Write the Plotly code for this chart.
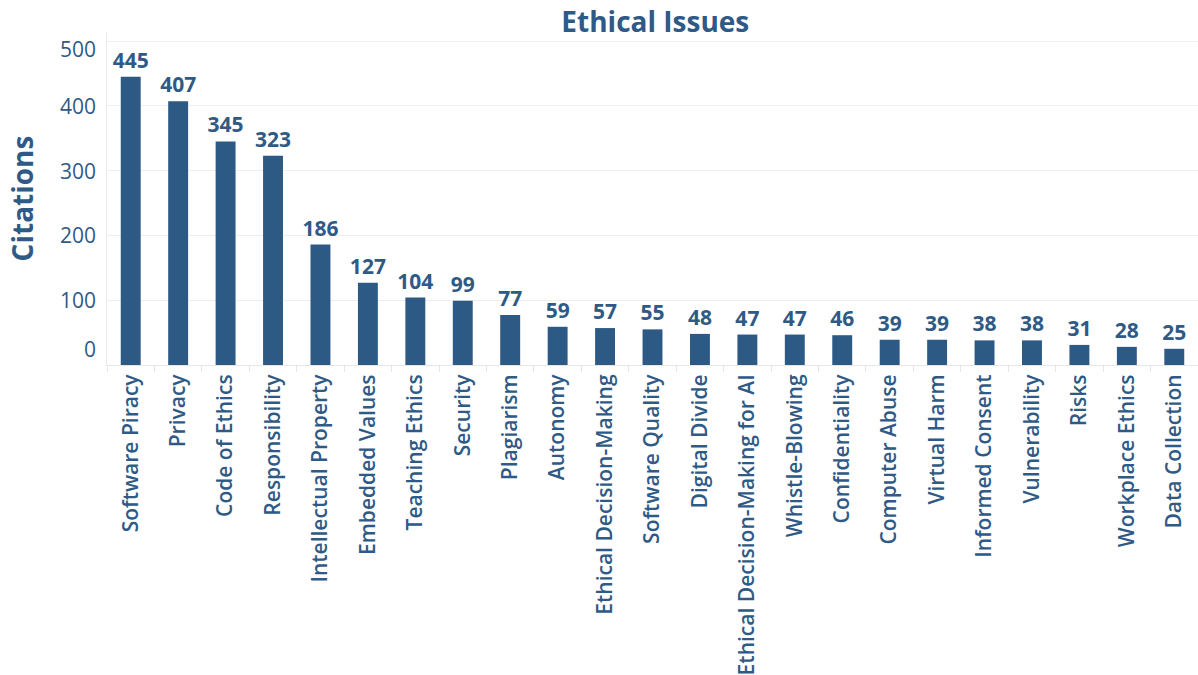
import plotly.graph_objects as go

issues = [
    "Software Piracy", "Privacy", "Code of Ethics", "Responsibility",
    "Intellectual Property", "Embedded Values", "Teaching Ethics", "Security",
    "Plagiarism", "Autonomy", "Ethical Decision-Making", "Software Quality",
    "Digital Divide", "Ethical Decision-Making for AI", "Whistle-Blowing",
    "Confidentiality", "Computer Abuse", "Virtual Harm", "Informed Consent",
    "Vulnerability", "Risks", "Workplace Ethics", "Data Collection",
]
citations = [445, 407, 345, 323, 186, 127, 104, 99, 77, 59, 57, 55, 48, 47,
             47, 46, 39, 39, 38, 38, 31, 28, 25]
y_ticks = [0, 100, 200, 300, 400, 500]

BLUE = "#2d5985"
TEXT = "#2f5a86"
GRID = "#eeeeee"
FONT = "Open Sans"
Y_MAX = 514

fig = go.Figure(
    go.Bar(
        x=issues,
        y=citations,
        marker=dict(color=BLUE, line=dict(width=0)),
        text=citations,
        texttemplate="%{text}",
        textposition="outside",
        constraintext="none",
        textfont=dict(family=FONT, size=21, color=TEXT, weight=700),
        cliponaxis=False,
    )
)

# Y tick labels are kept inside the axis span: the end labels are nudged
# inward so they do not overhang the plot edges.
for v in y_ticks:
    shift = 0
    if v == y_ticks[0]:
        shift = 16
    elif v == y_ticks[-1]:
        shift = -8
    fig.add_annotation(
        x=0, xref="paper", xanchor="right", xshift=-9,
        y=v, yref="y", yanchor="middle", yshift=shift,
        text=str(v), showarrow=False,
        font=dict(family=FONT, size=21, color=TEXT, weight=500),
    )

fig.update_layout(
    width=1198,
    height=675,
    margin=dict(l=107, r=0, t=32, b=308),
    paper_bgcolor="white",
    plot_bgcolor="white",
    bargap=0.58,
    showlegend=False,
    title=dict(
        text="Ethical Issues",
        x=0.547, xanchor="center", y=0.967, yanchor="middle",
        font=dict(family=FONT, size=28, color=TEXT, weight=700),
    ),
    font=dict(family=FONT, color=TEXT),
)

fig.update_xaxes(
    type="category",
    tickangle=-90,
    tickfont=dict(family=FONT, size=21, color=TEXT, weight=600),
    showgrid=False,
    showline=True, linecolor="#e6e6e6", linewidth=1,
    ticks="outside", tickson="boundaries", ticklen=6, tickcolor="#e6e6e6",
)

fig.update_yaxes(
    range=[0, Y_MAX],
    tickvals=y_ticks,
    showticklabels=False,
    showgrid=True, gridcolor=GRID, gridwidth=1,
    zeroline=False,
    showline=True, linecolor="#eaeaea", linewidth=1,
    ticks="",
    title=dict(
        text="Citations", standoff=64,
        font=dict(family=FONT, size=28, color=TEXT, weight=700),
    ),
)

fig.write_html("out.html")
